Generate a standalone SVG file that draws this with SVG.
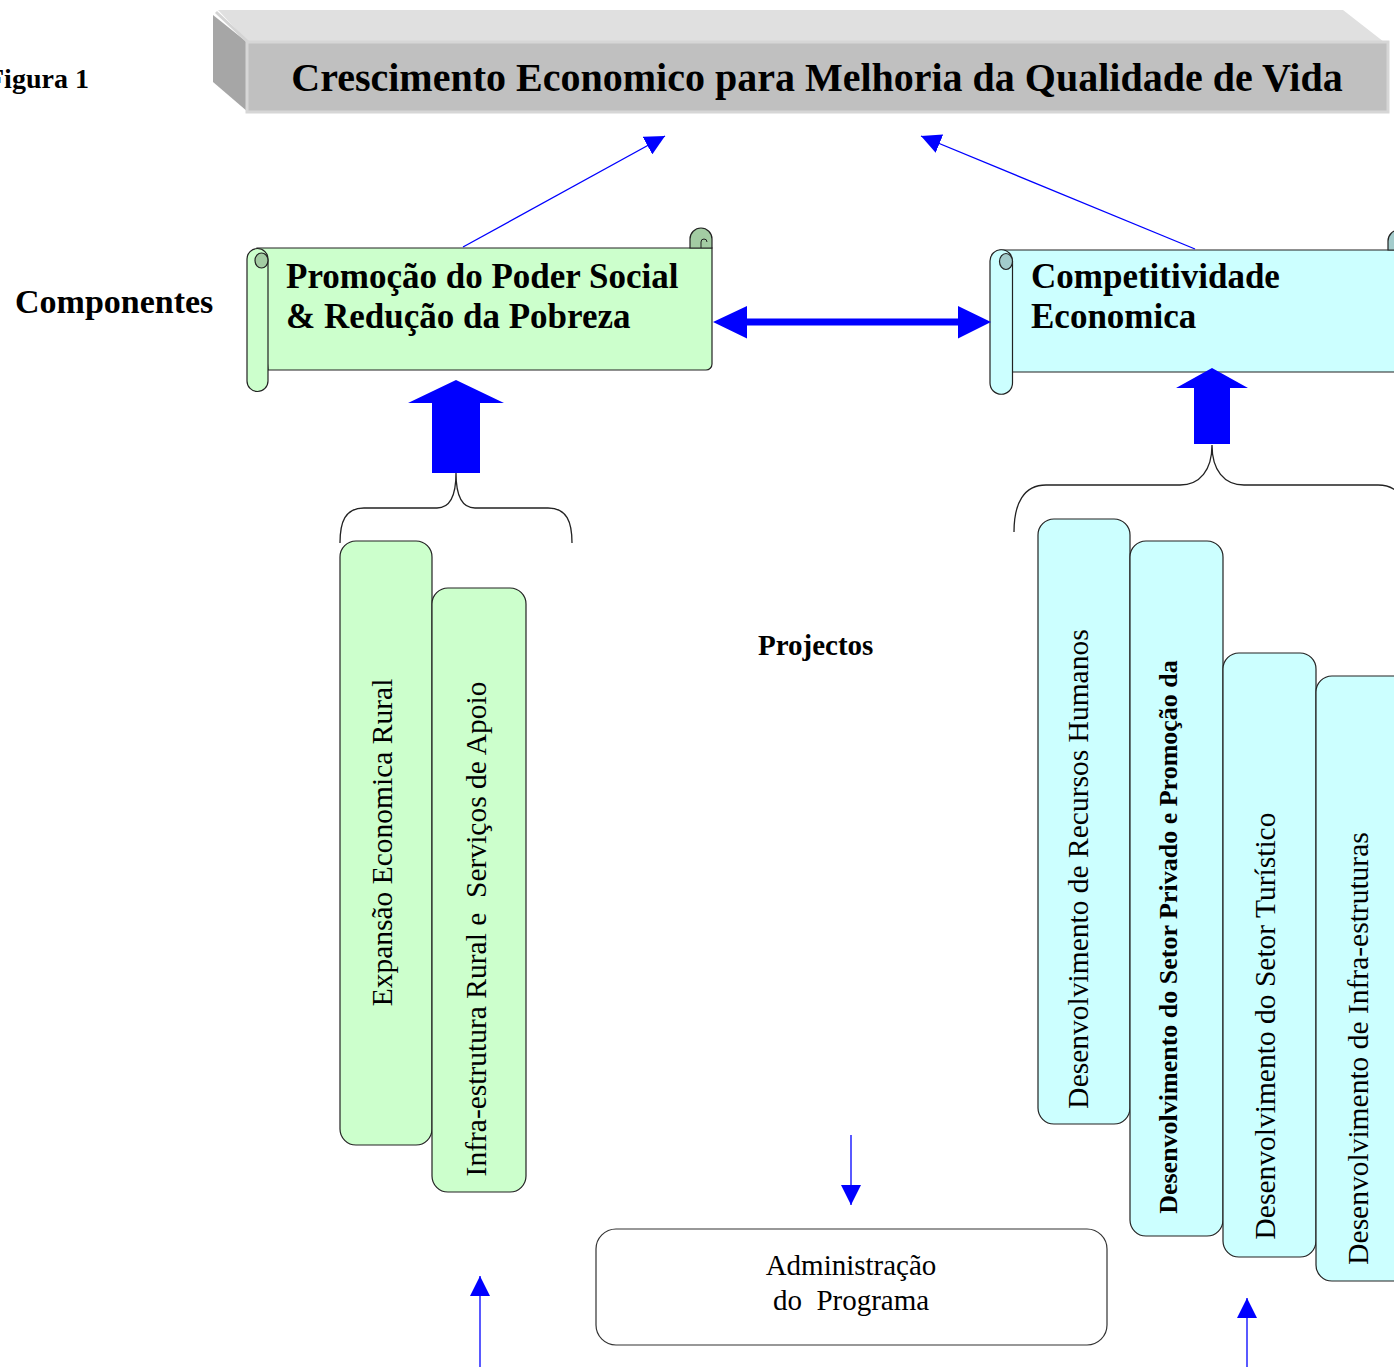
<svg xmlns="http://www.w3.org/2000/svg" width="1394" height="1367" viewBox="0 0 1394 1367">
<style>
.serif{font-family:"Liberation Serif","Times New Roman",serif;fill:#000}
.b{font-weight:bold}
.conn{stroke:#0000ff;stroke-width:1.3;fill:none}
.blue{fill:#0000ff;stroke:none}
.brace{fill:none;stroke:#222;stroke-width:1.3}
.green{fill:#ccffcc;stroke:#222;stroke-width:1.2}
.cyan{fill:#ccffff;stroke:#222;stroke-width:1.2}
.dkgreen{fill:#a3cca3;stroke:#222;stroke-width:1.2}
.dkcyan{fill:#a3cccc;stroke:#222;stroke-width:1.2}
.vt{font-size:29.5px}
</style>
<defs>
<marker id="ah" viewBox="0 0 20 20" refX="20" refY="10" markerWidth="20" markerHeight="20" markerUnits="userSpaceOnUse" orient="auto">
<path d="M0,0 L20,10 L0,20 Z" fill="#0000ff"/>
</marker>
</defs>
<rect width="1394" height="1367" fill="#ffffff"/>

<text class="serif b" x="-13" y="88" font-size="28">Figura 1</text>

<g id="title">
<polygon points="218,10 1343,10 1384,42 248,42" fill="#e0e0e0"/>
<polygon points="213,15 248,43 248,112 213,82" fill="#a6a6a6"/>
<polyline points="216,12 248,42" fill="none" stroke="#d4d4d4" stroke-width="3"/>
<rect x="247" y="42" width="1141" height="70" fill="#c0c0c0" stroke="#d6d6d6" stroke-width="3"/>
<text class="serif b" x="817" y="91" font-size="40" text-anchor="middle">Crescimento Economico para Melhoria da Qualidade de Vida</text>
</g>

<text class="serif b" x="15" y="313" font-size="34">Componentes</text>

<g id="comp-social">
<path class="green" d="M257,248 H712 V364 A6,6 0 0 1 706,370 H268 Z"/>
<path class="dkgreen" d="M690,248 V239 A11,11 0 0 1 712,239 V248 Z"/>
<path d="M701,248 V242 A3,3 0 0 1 707,242" fill="none" stroke="#222" stroke-width="1"/>
<path class="green" d="M247,259 A10.5,10.5 0 0 1 268,259 V381 A10.5,10.5 0 0 1 247,381 Z"/>
<ellipse class="dkgreen" cx="261.5" cy="260.5" rx="6.5" ry="7.5"/>
<text class="serif b" x="286" y="288" font-size="35">Promoção do Poder Social</text>
<text class="serif b" x="286" y="328" font-size="35">&amp; Redução da Pobreza</text>
</g>

<g id="comp-competitividade">
<path class="cyan" d="M1000,250 H1410 V372 H1012 Z"/>
<path class="dkcyan" d="M1388,250 V241 A11,11 0 0 1 1410,241 V250 Z"/>
<path class="cyan" d="M990,261 A11,11 0 0 1 1012.5,261 V383 A11,11 0 0 1 990,383 Z"/>
<ellipse class="dkcyan" cx="1006" cy="261.5" rx="6.5" ry="8"/>
<text class="serif b" x="1031" y="288" font-size="35">Competitividade</text>
<text class="serif b" x="1031" y="328" font-size="35">Economica</text>
</g>

<text class="serif b" x="758" y="655" font-size="29">Projectos</text>

<g id="proj-expansao">
<rect class="green" x="340" y="541" width="92" height="604" rx="16"/>
<text class="serif vt" transform="translate(392,842.5) rotate(-90)" text-anchor="middle">Expansão Economica Rural</text>
</g>
<g id="proj-infra-rural">
<rect class="green" x="432" y="588" width="94" height="604" rx="16"/>
<text class="serif vt" transform="translate(486,929) rotate(-90)" text-anchor="middle">Infra-estrutura Rural e &#160;Serviços de Apoio</text>
</g>

<g id="proj-rh">
<rect class="cyan" x="1038" y="519" width="92" height="605" rx="16"/>
<text class="serif vt" transform="translate(1088,869) rotate(-90)" text-anchor="middle">Desenvolvimento de Recursos Humanos</text>
</g>
<g id="proj-privado">
<rect class="cyan" x="1130" y="541" width="93" height="695" rx="16"/>
<text class="serif b" font-size="26" transform="translate(1177,937) rotate(-90)" text-anchor="middle">Desenvolvimento do Setor Privado e Promoção da</text>
</g>
<g id="proj-turistico">
<rect class="cyan" x="1223" y="653" width="93" height="604" rx="16"/>
<text class="serif vt" transform="translate(1275,1026) rotate(-90)" text-anchor="middle">Desenvolvimento do Setor Turístico</text>
</g>
<g id="proj-infra">
<rect class="cyan" x="1316" y="676" width="94" height="605" rx="16"/>
<text class="serif vt" transform="translate(1368,1048.5) rotate(-90)" text-anchor="middle">Desenvolvimento de Infra-estruturas</text>
</g>

<g id="admin">
<rect x="596" y="1229" width="511" height="116" rx="20" fill="#ffffff" stroke="#333" stroke-width="1.2"/>
<text class="serif" x="851" y="1275" font-size="29" text-anchor="middle">Administração</text>
<text class="serif" x="851" y="1310" font-size="29" text-anchor="middle" xml:space="preserve">do  Programa</text>
</g>

<g id="connectors">
<line class="conn" x1="463" y1="247" x2="665" y2="136" marker-end="url(#ah)"/>
<line class="conn" x1="1195" y1="249" x2="921" y2="136" marker-end="url(#ah)"/>
<path class="blue" d="M713,322 L747,306 V318.5 H958 V306 L991,322 L958,338.5 V325.5 H747 V338.5 Z"/>
<path class="blue" d="M456,380 L504,403 H480 V473 H432 V403 H408 Z"/>
<path class="blue" d="M1212,368 L1248,388 H1230 V444 H1194 V388 H1176 Z"/>
<path class="brace" d="M340,543 C340,522 345,508 364,508 H437 C451,508 456,494 456,473 C456,494 461,508 475,508 H548 C567,508 572,522 572,543"/>
<path class="brace" d="M1014,532 C1014,503 1024,485 1046,485 H1180 C1200,485 1212,470 1212,445 C1212,470 1224,485 1244,485 H1378 C1400,485 1410,503 1410,532"/>
<line class="conn" x1="851" y1="1135" x2="851" y2="1205" marker-end="url(#ah)"/>
<line class="conn" x1="480" y1="1367" x2="480" y2="1276" marker-end="url(#ah)"/>
<line class="conn" x1="1247" y1="1367" x2="1247" y2="1298" marker-end="url(#ah)"/>
</g>
</svg>
